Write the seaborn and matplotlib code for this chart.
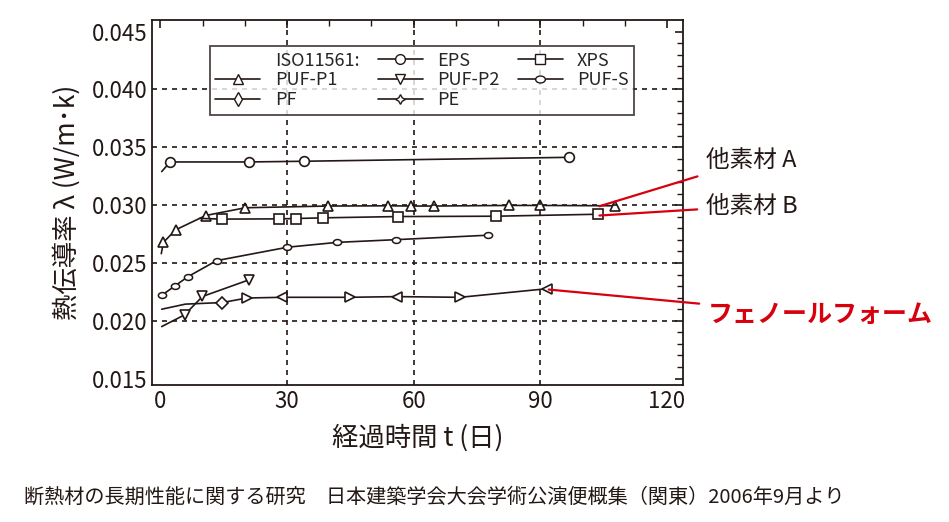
import matplotlib
matplotlib.use("Agg")
import matplotlib.pyplot as plt
import seaborn as sns
from matplotlib.lines import Line2D

sns.set_theme(style="white")
plt.rcParams['font.family'] = ['Noto Sans CJK JP', 'DejaVu Sans']

eps_t = [0.3, 2.3, 21, 34, 96.8]
eps_v = [0.0329, 0.03373, 0.03373, 0.03379, 0.03413]
p1_t = [0.2, 0.7, 3.6, 10.7, 20.1, 39.8, 54, 59.3, 64.9, 82.5, 90, 107.7]
p1_v = [0.0258, 0.02678, 0.02786, 0.0291, 0.02977, 0.02992, 0.02994, 0.02992, 0.02992, 0.02997, 0.02997, 0.02994]
xps_t = [9.3, 14.7, 28, 32, 38.6, 56.2, 79.5, 103.6]
xps_v = [0.02885, 0.02879, 0.02881, 0.02884, 0.0289, 0.02901, 0.02904, 0.02921]
pufs_t = [0.3, 3.5, 6.5, 13.3, 30.1, 41.9, 55.7, 77.7]
pufs_v = [0.0222, 0.02303, 0.02381, 0.0252, 0.02636, 0.02678, 0.02701, 0.0274]
p2_t = [0.3, 5.7, 9.95, 20.9]
p2_v = [0.0195, 0.02051, 0.0221, 0.02353]
pf_t = [0.3, 5.9, 14.7, 20.5, 28.9, 44.8, 56, 71, 91.5]
pf_v = [0.0210, 0.02144, 0.02158, 0.02197, 0.02203, 0.02203, 0.02209, 0.02203, 0.02277]
pf_markers = [None, None, 'D', '>', '<', '>', '<', '>', '<']

fig = plt.figure(figsize=(9.49, 5.22), dpi=100)
ax = fig.add_axes([152/949, 1-385/522, (683-152)/949, (385-20)/522])

k = dict(color='#231815', lw=1.2)
mk = dict(mfc='white', mec='#231815', mew=1.2, ms=7, ls='none')
def series(t, v, m, skip=1, ms=7):
    sns.lineplot(x=t, y=v, ax=ax, sort=False, estimator=None, **k)
    ax.plot(t[skip:], v[skip:], marker=m, **{**mk, 'ms': ms})

ellipse = matplotlib.path.Path.unit_circle().transformed(matplotlib.transforms.Affine2D().scale(1.4, 1.0))

series(eps_t, eps_v, 'o')
series(p1_t, p1_v, '^')
series(xps_t, xps_v, 's')
ax.plot(pufs_t, pufs_v, **k)
ax.scatter(pufs_t, pufs_v, marker=ellipse, s=35, facecolor='white', edgecolor='#231815', linewidth=1.1, zorder=3)
series(p2_t, p2_v, 'v')
ax.plot(pf_t, pf_v, **k)
for t, v, m in zip(pf_t, pf_v, pf_markers):
    if m:
        ax.plot(t, v, marker=m, **{**mk, 'ms': 6 if m == 'D' else 7})

ax.set_xlim(-2.0, 123.8)
ax.set_ylim(0.01445, 0.0460)
ax.set_xticks([0, 30, 60, 90, 120])
ax.set_yticks([0.015, 0.020, 0.025, 0.030, 0.035, 0.040, 0.045])
ax.set_yticklabels(['0.015', '0.020', '0.025', '0.030', '0.035', '0.040', '0.045'])
ax.set_xticks(range(10, 120, 10), minor=True)
ax.set_yticks([0.015 + 0.001*i for i in range(31)], minor=True)
ax.tick_params(which='both', direction='in', top=True, right=True, labelsize=16, colors='#231815')
ax.tick_params(which='major', length=6, width=1.2)
ax.tick_params(which='minor', length=4, width=1)
for x in [30, 60, 90]:
    ax.axvline(x, color='#231815', ls=(0, (3, 3)), lw=1.2)
for y in [0.020, 0.025, 0.030, 0.035, 0.040]:
    ax.axhline(y, color='#231815', ls=(0, (3, 3)), lw=1.2)
for s in ax.spines.values():
    s.set_color('#231815'); s.set_linewidth(1.3)

ax.set_xlabel('経過時間 t (日)', fontsize=19, color='#231815', labelpad=8)
ax.set_ylabel('熱伝導率 λ (W/m･k)', fontsize=19, color='#231815', labelpad=8)

def h(m, ms=7):
    return Line2D([], [], color='#231815', marker=m, mfc='white', mec='#231815', ms=ms, lw=1.2)
handles = [Line2D([], [], alpha=0), h('^'), h('d'), h('o'), h('v'), h((4, 1, 0)), h('s'), h(ellipse, 7)]
labels = ['ISO11561:', 'PUF-P1', 'PF', 'EPS', 'PUF-P2', 'PE', 'XPS', 'PUF-S']
leg = ax.legend(handles, labels, ncol=3, loc='upper left', bbox_to_anchor=(0.092, 0.953),
                fontsize=13, frameon=True, fancybox=False, handlelength=2.5,
                columnspacing=1.0, labelspacing=0.1, borderpad=0.3)
leg.get_frame().set_edgecolor('#231815'); leg.get_frame().set_linewidth(1.3)

red = '#d7000f'
ax.annotate('他素材 A', xy=(104, 0.0299), xycoords='data', xytext=(706, 522-160), textcoords='figure pixels',
            fontsize=17, va='center', color='#231815',
            arrowprops=dict(arrowstyle='-', color=red, lw=1.6, shrinkB=0, shrinkA=4))
ax.annotate('他素材 B', xy=(104, 0.0291), xycoords='data', xytext=(706, 522-206), textcoords='figure pixels',
            fontsize=17, va='center', color='#231815',
            arrowprops=dict(arrowstyle='-', color=red, lw=1.6, shrinkB=0, shrinkA=4))
ax.annotate('フェノールフォーム', xy=(92, 0.0227), xycoords='data', xytext=(708, 522-315), textcoords='figure pixels',
            fontsize=18, va='center', color=red, fontweight='bold',
            arrowprops=dict(arrowstyle='-', color=red, lw=1.6, shrinkB=0, shrinkA=4))

fig.text(24/949, 1-497/522, '断熱材の長期性能に関する研究　日本建築学会大会学術公演便概集（関東）2006年9月より',
         fontsize=14.5, va='center', color='#231815')

fig.savefig('out.png', dpi=100)
